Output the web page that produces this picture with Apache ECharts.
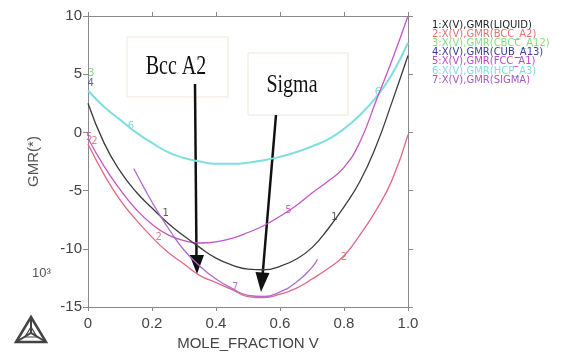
<!DOCTYPE html>
<html>
<head>
<meta charset="utf-8">
<script src="https://cdn.jsdelivr.net/npm/echarts@6/dist/echarts.min.js"></script>
<style>
  html, body { margin: 0; padding: 0; background: #fff; }
  #chart { width: 573px; height: 356px; }
</style>
</head>
<body>
<div id="chart"></div>
<script>
// mole fraction V, shared by curves 1, 2, 5, 6
var xs = [0, 0.05, 0.1, 0.15, 0.2, 0.25, 0.3, 0.35, 0.4, 0.45, 0.5,
          0.55, 0.6, 0.65, 0.7, 0.75, 0.8, 0.85, 0.9, 0.95, 1.0];

// GMR values (x10^3)
var liquid = [2.5, -0.9, -3.3, -5.1, -6.5, -7.8, -8.9, -9.9, -10.8, -11.4, -11.75,
              -11.8, -11.5, -10.9, -9.9, -8.3, -6.4, -4.2, -1.2, 2.6, 6.6];
var bccA2 = [-1.0, -3.6, -5.8, -7.5, -9.0, -10.3, -11.3, -12.3, -12.9, -13.5, -14.1,
             -14.2, -13.9, -13.4, -12.6, -11.7, -10.6, -8.8, -6.7, -4.1, -0.2];
var fccA1 = [-0.5, -2.9, -4.9, -6.6, -7.9, -8.8, -9.3, -9.5, -9.4, -9.1, -8.6,
             -8.0, -7.2, -6.3, -5.2, -4.2, -3.0, -0.8, 2.7, 6.2, 10.0];
var hcpA3 = [3.6, 2.2, 1.1, 0.0, -0.9, -1.7, -2.2, -2.5, -2.7, -2.7, -2.6,
             -2.4, -2.1, -1.7, -1.2, -0.6, 0.3, 1.5, 3.0, 5.0, 7.7];

// sigma only exists over part of the range
var sigmaX = [0.143, 0.18, 0.22, 0.26, 0.3, 0.35, 0.4, 0.45, 0.5, 0.55, 0.6, 0.65, 0.7, 0.717];
var sigmaY = [-3.1, -5.0, -6.9, -8.6, -10.1, -11.5, -12.6, -13.4, -14.0, -14.1, -13.7, -12.9, -11.6, -10.9];

// curve number labels [x, y]
var tags1 = [[0.243, -7.0], [0.77, -7.3]];
var tags2 = [[0.221, -9.0], [0.8, -10.7], [0.02, -0.8]];
var tags3 = [[0.01, 5.1]];
var tags4 = [[0.008, 4.2]];
var tags5 = [[0.626, -6.7], [0.004, -0.4]];
var tags6 = [[0.134, 0.5], [0.906, 3.4]];
var tags7 = [[0.46, -13.3]];

var legendLines = [
    "1:X(V),GMR(LIQUID)",
    "2:X(V),GMR(BCC_A2)",
    "3:X(V),GMR(CBCC_A12)",
    "4:X(V),GMR(CUB_A13)",
    "5:X(V),GMR(FCC_A1)",
    "6:X(V),GMR(HCP_A3)",
    "7:X(V),GMR(SIGMA)"
];
var legendColors = ["#222222", "#e87070", "#80e080", "#3a3a9c", "#c048c0", "#80dede", "#a858c8"];

function pairs(x, y) {
    var out = [];
    for (var i = 0; i < x.length; i++) {
        out.push([x[i], y[i]]);
    }
    return out;
}

function curve(name, x, y, color, width) {
    return {
        name: name,
        type: "line",
        smooth: true,
        showSymbol: false,
        animation: false,
        lineStyle: { color: color, width: width },
        data: pairs(x, y)
    };
}

function tags(num, data, color) {
    return {
        type: "scatter",
        symbolSize: 1,
        animation: false,
        itemStyle: { color: "rgba(0,0,0,0)" },
        label: {
            show: true,
            position: "inside",
            formatter: num,
            color: color,
            fontSize: 10,
            fontFamily: "DejaVu Sans"
        },
        data: data
    };
}

var chart = echarts.init(document.getElementById("chart"));

var graphics = [];
// legend text on the right
for (var i = 0; i < legendLines.length; i++) {
    graphics.push({
        type: "text",
        left: 432,
        top: 20 + i * 9.2,
        style: {
            text: legendLines[i],
            fill: legendColors[i],
            font: "10px 'DejaVu Sans'"
        }
    });
}

// annotation boxes
graphics.push({
    type: "rect",
    shape: { x: 127, y: 37, width: 101, height: 60 },
    style: { fill: "#fff", stroke: "#f3e6da", lineWidth: 1 }
});
graphics.push({
    type: "text",
    x: 176, y: 67,
    scaleY: 1.35,
    style: {
        text: "Bcc A2",
        fill: "#111",
        font: "20px 'Liberation Serif'",
        align: "center",
        verticalAlign: "middle"
    }
});
graphics.push({
    type: "rect",
    shape: { x: 248, y: 53, width: 100, height: 62 },
    style: { fill: "#fff", stroke: "#f3e6da", lineWidth: 1 }
});
graphics.push({
    type: "text",
    x: 292, y: 85,
    scaleY: 1.3,
    style: {
        text: "Sigma",
        fill: "#111",
        font: "20px 'Liberation Serif'",
        align: "center",
        verticalAlign: "middle"
    }
});

// arrows
graphics.push({
    type: "line",
    shape: { x1: 195, y1: 84, x2: 196.5, y2: 258 },
    style: { stroke: "#111", lineWidth: 2.5 }
});
graphics.push({
    type: "polygon",
    shape: { points: [[189.5, 255], [204, 255], [197, 274]] },
    style: { fill: "#111" }
});
graphics.push({
    type: "line",
    shape: { x1: 276, y1: 115, x2: 262.5, y2: 276 },
    style: { stroke: "#111", lineWidth: 2.5 }
});
graphics.push({
    type: "polygon",
    shape: { points: [[255.5, 272], [269.5, 273], [261, 292]] },
    style: { fill: "#111" }
});

// axis multiplier
graphics.push({
    type: "text",
    left: 32, top: 267,
    style: { text: "10³", fill: "#555", font: "13px 'Liberation Sans'" }
});

// Thermo-Calc style logo
graphics.push({
    type: "polygon",
    shape: { points: [[16, 342], [46, 342], [31, 317]] },
    style: { fill: "none", stroke: "#444", lineWidth: 2.5 }
});
graphics.push({
    type: "polyline",
    shape: { points: [[16, 342], [31, 333], [46, 342]] },
    style: { fill: "none", stroke: "#444", lineWidth: 2 }
});
graphics.push({
    type: "line",
    shape: { x1: 31, y1: 317, x2: 31, y2: 333 },
    style: { stroke: "#444", lineWidth: 2 }
});
graphics.push({
    type: "polygon",
    shape: { points: [[25, 337], [37, 337], [31, 327]] },
    style: { fill: "none", stroke: "#444", lineWidth: 1.2 }
});

var axisGray = "#8a8a8a";

var option = {
    backgroundColor: "#fff",
    animation: false,
    grid: { left: 88, top: 16, width: 320, height: 291 },
    xAxis: [{
        type: "value",
        position: "bottom",
        min: 0, max: 1, interval: 0.2,
        name: "MOLE_FRACTION V",
        nameLocation: "middle",
        nameGap: 28,
        nameTextStyle: { color: "#444", fontSize: 15, fontFamily: "Liberation Sans" },
        axisLine: { onZero: false, lineStyle: { color: axisGray } },
        axisTick: { inside: false, length: 4, lineStyle: { color: axisGray } },
        axisLabel: {
            color: "#444", fontSize: 15, margin: 9, fontFamily: "Liberation Sans",
            formatter: function (v) { return v === 0 ? "0" : v.toFixed(1); }
        },
        splitLine: { show: false }
    }, {
        type: "value",
        position: "top",
        min: 0, max: 1, interval: 0.2,
        axisLine: { show: true, onZero: false, lineStyle: { color: axisGray } },
        axisTick: { show: true, length: 4, lineStyle: { color: axisGray } },
        axisLabel: { show: false },
        splitLine: { show: false }
    }],
    yAxis: [{
        type: "value",
        position: "left",
        min: -15, max: 10, interval: 5,
        name: "GMR(*)",
        nameLocation: "middle",
        nameRotate: 90,
        nameGap: 47,
        nameTextStyle: { color: "#555", fontSize: 15, fontFamily: "Liberation Sans" },
        axisLine: { show: true, onZero: false, lineStyle: { color: axisGray } },
        axisTick: { show: true, length: 5, lineStyle: { color: axisGray } },
        axisLabel: { color: "#444", fontSize: 15, margin: 6, fontFamily: "Liberation Sans" },
        splitLine: { show: false }
    }, {
        type: "value",
        position: "right",
        min: -15, max: 10, interval: 5,
        axisLine: { show: true, onZero: false, lineStyle: { color: axisGray } },
        axisTick: { show: true, length: 5, lineStyle: { color: axisGray } },
        axisLabel: { show: false },
        splitLine: { show: false }
    }],
    series: [
        curve("HCP_A3", xs, hcpA3, "#7fdede", 2),
        curve("FCC_A1", xs, fccA1, "#c456c4", 1.3),
        curve("LIQUID", xs, liquid, "#3c3c3c", 1.3),
        curve("BCC_A2", xs, bccA2, "#e06a84", 1.3),
        curve("SIGMA", sigmaX, sigmaY, "#b06ad0", 1.3),
        tags("1", tags1, "#333"),
        tags("2", tags2, "#e06060"),
        tags("3", tags3, "#60d060"),
        tags("4", tags4, "#3a3a9c"),
        tags("5", tags5, "#c040c0"),
        tags("6", tags6, "#60d0d0"),
        tags("7", tags7, "#a858c8")
    ],
    graphic: graphics
};

chart.setOption(option);
</script>
</body>
</html>
